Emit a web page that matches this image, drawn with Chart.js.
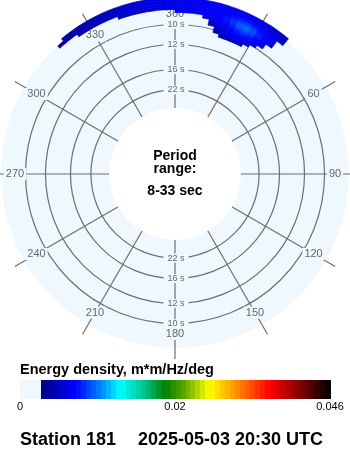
<!DOCTYPE html>
<html>
<head>
<meta charset="utf-8">
<script src="https://cdn.jsdelivr.net/npm/chart.js"></script>
<style>
  body { margin: 0; background: #fff; }
  canvas { display: block; }
</style>
</head>
<body>
<canvas id="spec" width="350" height="450"></canvas>
<script>
// compass labels, clockwise from north
const dirLabels = ['360', '30', '60', '90', '120', '150', '180', '210', '240', '270', '300', '330'];
// period rings (s)
const ringPeriods = [22, 16, 12, 10];
const periodRange = [8, 33];

// direction bins: 2.5 deg wide, first bin starts at 317.5 deg and runs clockwise
const dirStart = 317.5;
const dirStep = 2.5;
// frequency bands: 0.0025 Hz wide, lower edges
const bandLow = [0.0950, 0.0975, 0.1000, 0.1025, 0.1050, 0.1075, 0.1100, 0.1125, 0.1150, 0.1175, 0.1200];
const bandWidth = 0.0025;
// first direction bin holding energy, per band
const bandFirstBin = [24, 23, 23, 22, 22, 21, 17, 9, 3, 0, 1];

// energy density, m*m/Hz/deg, one array per band (inner to outer)
const e0950 = [0.0022, 0.0028, 0.0030, 0.0028];
const e0975 = [0.0022, 0.0032, 0.0038, 0.0042, 0.0042, 0.0038];
const e1000 = [0.0030, 0.0040, 0.0046, 0.0050, 0.0051, 0.0048, 0.0040];
const e1025 = [0.0022, 0.0036, 0.0045, 0.0052, 0.0058, 0.0060, 0.0056, 0.0048, 0.0036];
const e1050 = [0.0030, 0.0042, 0.0050, 0.0058, 0.0066, 0.0070, 0.0064, 0.0054, 0.0044];
const e1075 = [0.0036, 0.0044, 0.0050, 0.0056, 0.0066, 0.0078, 0.0082, 0.0074, 0.0062, 0.0052, 0.0040];
const e1100 = [0.0040, 0.0042, 0.0044, 0.0046, 0.0048, 0.0051, 0.0054, 0.0060, 0.0070, 0.0082, 0.0086,
               0.0078, 0.0064, 0.0054, 0.0044];
const e1125 = [0.0022, 0.0026, 0.0030, 0.0033, 0.0036, 0.0039, 0.0042, 0.0044, 0.0046, 0.0047, 0.0048,
               0.0049, 0.0050, 0.0052, 0.0054, 0.0058, 0.0064, 0.0072, 0.0074, 0.0068, 0.0058, 0.0050,
               0.0042];
const e1150 = [0.0016, 0.0018, 0.0021, 0.0024, 0.0027, 0.0030, 0.0033, 0.0036, 0.0038, 0.0040, 0.0042,
               0.0044, 0.0045, 0.0046, 0.0047, 0.0048, 0.0048, 0.0049, 0.0050, 0.0051, 0.0052, 0.0054,
               0.0057, 0.0060, 0.0060, 0.0057, 0.0052, 0.0046, 0.0040, 0.0030];
const e1175 = [0.0012, 0.0015, 0.0018, 0.0020, 0.0022, 0.0024, 0.0026, 0.0028, 0.0030, 0.0032, 0.0034,
               0.0036, 0.0038, 0.0040, 0.0042, 0.0044, 0.0045, 0.0046, 0.0047, 0.0048, 0.0048, 0.0049,
               0.0050, 0.0050, 0.0051, 0.0052, 0.0052, 0.0052, 0.0050, 0.0047, 0.0042, 0.0036, 0.0026];
const e1200 = [0.0014, 0.0016, 0.0018, 0.0020, 0.0022, 0.0024, 0.0026, 0.0028, 0.0030, 0.0032, 0.0034,
               0.0036, 0.0038, 0.0040, 0.0041, 0.0042, 0.0043, 0.0044, 0.0044, 0.0045, 0.0045, 0.0046,
               0.0046, 0.0046, 0.0046, 0.0045, 0.0044, 0.0042, 0.0039, 0.0035, 0.0030, 0.0024];
const energyRows = [e0950, e0975, e1000, e1025, e1050, e1075, e1100, e1125, e1150, e1175, e1200];

// colour bar
const eMax = 0.046;
const cbarTicks = ['0', '0.02', '0.046'];
const cbarTitle = 'Energy density, m*m/Hz/deg';
const stationName = 'Station 181';
const stamp = '2025-05-03 20:30 UTC';

const discColor = '#f0f8ff';
const gridGray = '#6e6e6e';
const labelGray = '#666666';
const FONT = '"Liberation Sans", Arial, sans-serif';

const cmapStops = [
    [0, [0, 0, 128]], [0.118, [0, 0, 255]], [0.204, [0, 128, 255]], [0.273, [0, 255, 255]],
    [0.35, [0, 200, 150]], [0.429, [0, 128, 0]], [0.5, [100, 170, 0]], [0.585, [255, 255, 0]],
    [0.689, [255, 128, 0]], [0.792, [255, 0, 0]], [0.9, [128, 0, 0]], [1, [0, 0, 0]]
];

function cmap(t) {
    t = Math.max(0, Math.min(1, t));
    for (let i = 1; i < cmapStops.length; i++) {
        const [t1, c1] = cmapStops[i];
        const [t0, c0] = cmapStops[i - 1];
        if (t <= t1) {
            const k = (t - t0) / (t1 - t0);
            const c = c0.map((v, j) => Math.round(v + (c1[j] - v) * k));
            return `rgb(${c[0]},${c[1]},${c[2]})`;
        }
    }
    return 'rgb(0,0,0)';
}

const degPerLabel = 360 / dirLabels.length;

const polarDecor = {
    id: 'polarDecor',
    beforeDatasetsDraw(chart) {
        const ctx = chart.ctx;
        const r = chart.scales.r;
        const cx = r.xCenter, cy = r.yCenter;
        ctx.save();

        // spokes poke a bit past the disc
        ctx.strokeStyle = gridGray;
        ctx.lineWidth = 1.2;
        dirLabels.forEach((_, i) => {
            const a = r.getPointPosition(i, r.drawingArea);
            const b = r.getPointPosition(i, r.drawingArea + 11);
            ctx.beginPath();
            ctx.moveTo(a.x, a.y);
            ctx.lineTo(b.x, b.y);
            ctx.stroke();
        });

        // white hole inside the longest period
        const hole = r.getDistanceFromCenterForValue(1 / periodRange[1]);
        ctx.fillStyle = '#ffffff';
        ctx.beginPath();
        ctx.arc(cx, cy, hole, 0, Math.PI * 2);
        ctx.fill();

        ctx.fillStyle = '#000';
        ctx.font = 'bold 14px ' + FONT;
        ctx.textAlign = 'center';
        ctx.textBaseline = 'alphabetic';
        ctx.fillText('Period', cx, cy - 14);
        ctx.fillText('range:', cx, cy - 1);
        ctx.fillText(periodRange[0] + '-' + periodRange[1] + ' sec', cx, cy + 21);

        // period labels on the north/south spoke
        ctx.font = '9px ' + FONT;
        ctx.textBaseline = 'middle';
        ringPeriods.forEach(p => {
            const d = r.getDistanceFromCenterForValue(1 / p);
            const txt = p + ' s';
            const w = ctx.measureText(txt).width + 8;
            [cy - d, cy + d].forEach(y => {
                ctx.fillStyle = discColor;
                ctx.fillRect(cx + 1 - w / 2, y - 4.5, w, 9);
                ctx.fillStyle = labelGray;
                ctx.fillText(txt, cx + 1, y);
            });
        });

        // compass labels sit on the spokes
        ctx.font = '11px ' + FONT;
        const lr = r.drawingArea - 14;
        dirLabels.forEach((lab, i) => {
            const pt = r.getPointPosition(i, lr);
            const w = ctx.measureText(lab).width + 4;
            ctx.fillStyle = discColor;
            ctx.fillRect(pt.x - w / 2, pt.y - 6, w, 12);
            ctx.fillStyle = labelGray;
            ctx.fillText(lab, pt.x, pt.y);
        });
        ctx.restore();
    },
    afterDatasetsDraw(chart) {
        const ctx = chart.ctx;
        const r = chart.scales.r;
        const cx = r.xCenter, cy = r.yCenter;
        const span = dirStep * Math.PI / 180;
        ctx.save();
        energyRows.forEach((row, bi) => {
            const rIn = r.getDistanceFromCenterForValue(bandLow[bi]);
            const rOut = r.getDistanceFromCenterForValue(bandLow[bi] + bandWidth);
            row.forEach((v, k) => {
                if (!v) return;
                const dir = dirStart + (bandFirstBin[bi] + k) * dirStep;
                const a0 = r.getIndexAngle(dir / degPerLabel) - Math.PI / 2;
                const col = cmap(v / eMax);
                ctx.fillStyle = col;
                ctx.strokeStyle = col;
                ctx.lineWidth = 0.7;
                ctx.beginPath();
                ctx.arc(cx, cy, rOut, a0, a0 + span);
                ctx.arc(cx, cy, rIn, a0 + span, a0, true);
                ctx.closePath();
                ctx.fill();
                ctx.stroke();
            });
        });
        ctx.restore();
    },
    afterDraw(chart) {
        const ctx = chart.ctx;
        ctx.save();
        // colour bar
        const x0 = 20, x1 = 330, y = 380, h = 19, zeroW = 21;
        ctx.fillStyle = discColor;
        ctx.fillRect(x0, y, zeroW, h);
        const n = 58;
        const step = (x1 - x0 - zeroW) / n;
        for (let k = 0; k < n; k++) {
            ctx.fillStyle = cmap((k + 0.5) / n);
            ctx.fillRect(Math.round(x0 + zeroW + k * step), y, Math.ceil(step) + 1, h);
        }
        ctx.fillStyle = '#000';
        ctx.textAlign = 'left';
        ctx.textBaseline = 'alphabetic';
        ctx.font = 'bold 14.5px ' + FONT;
        ctx.fillText(cbarTitle, x0, 374);

        ctx.font = '11px ' + FONT;
        ctx.textAlign = 'center';
        cbarTicks.forEach((t, i) => {
            ctx.fillText(t, x0 + (x1 - x0) * i / (cbarTicks.length - 1), 410);
        });

        ctx.font = 'bold 18px ' + FONT;
        ctx.textAlign = 'left';
        ctx.fillText(stationName, 20, 445);
        ctx.fillText(stamp, 138, 445);
        ctx.restore();
    }
};

new Chart(document.getElementById('spec'), {
    type: 'radar',
    data: {
        labels: dirLabels,
        datasets: []
    },
    options: {
        responsive: false,
        animation: false,
        layout: { padding: { top: 0, left: 0, right: 0, bottom: 102 } },
        plugins: {
            legend: { display: false },
            tooltip: { enabled: false }
        },
        scales: {
            r: {
                min: -0.0246,
                max: 0.1204,
                startAngle: 0,
                backgroundColor: discColor,
                grid: { circular: true, color: gridGray, lineWidth: 1.2 },
                angleLines: { color: gridGray, lineWidth: 1.2 },
                pointLabels: { display: false },
                ticks: { display: false },
                afterBuildTicks: scale => {
                    scale.ticks = ringPeriods.map(p => ({ value: 1 / p }));
                }
            }
        }
    },
    plugins: [polarDecor]
});
</script>
</body>
</html>
